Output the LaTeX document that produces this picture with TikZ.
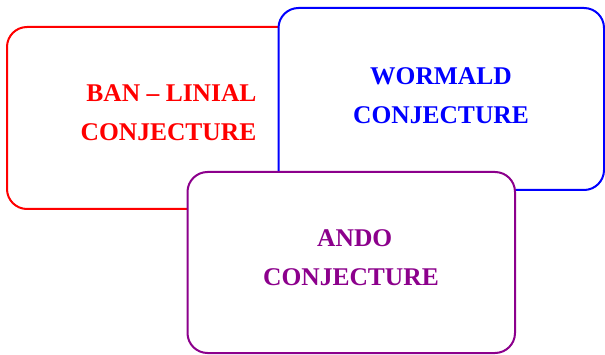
\documentclass[tikz,border=0pt]{standalone}
\usepackage{fontspec}
\setmainfont{Liberation Serif}
\definecolor{boxred}{RGB}{255,0,0}
\definecolor{boxblue}{RGB}{0,0,255}
\definecolor{boxpurple}{RGB}{140,0,140}
\tikzset{
  conjbox/.style={line width=2pt, rounded corners=20pt, fill=white},
  conjtext/.style={font=\fontsize{25.5}{39}\selectfont\bfseries, align=center, inner sep=0pt}
}
\begin{document}
\begin{tikzpicture}[x=1pt,y=-1pt]
\useasboundingbox (0,0) rectangle (605,355);
\draw[conjbox, draw=boxred] (7,27) rectangle (336,209);
\node[conjtext, text=boxred] (ban) at (168.5,112.5) {\hspace*{6pt}BAN – LINIAL\\CONJECTURE};
\draw[conjbox, draw=boxblue] (278.5,8) rectangle (604,190);
\node[conjtext, text=boxblue] (wor) at (441,95.5) {WORMALD\\CONJECTURE};
\draw[conjbox, draw=boxpurple] (187.5,172) rectangle (515,353);
\node[conjtext, text=boxpurple] (ando) at (351,258) {\hspace*{7.5pt}ANDO\\CONJECTURE};
\end{tikzpicture}
\end{document}
